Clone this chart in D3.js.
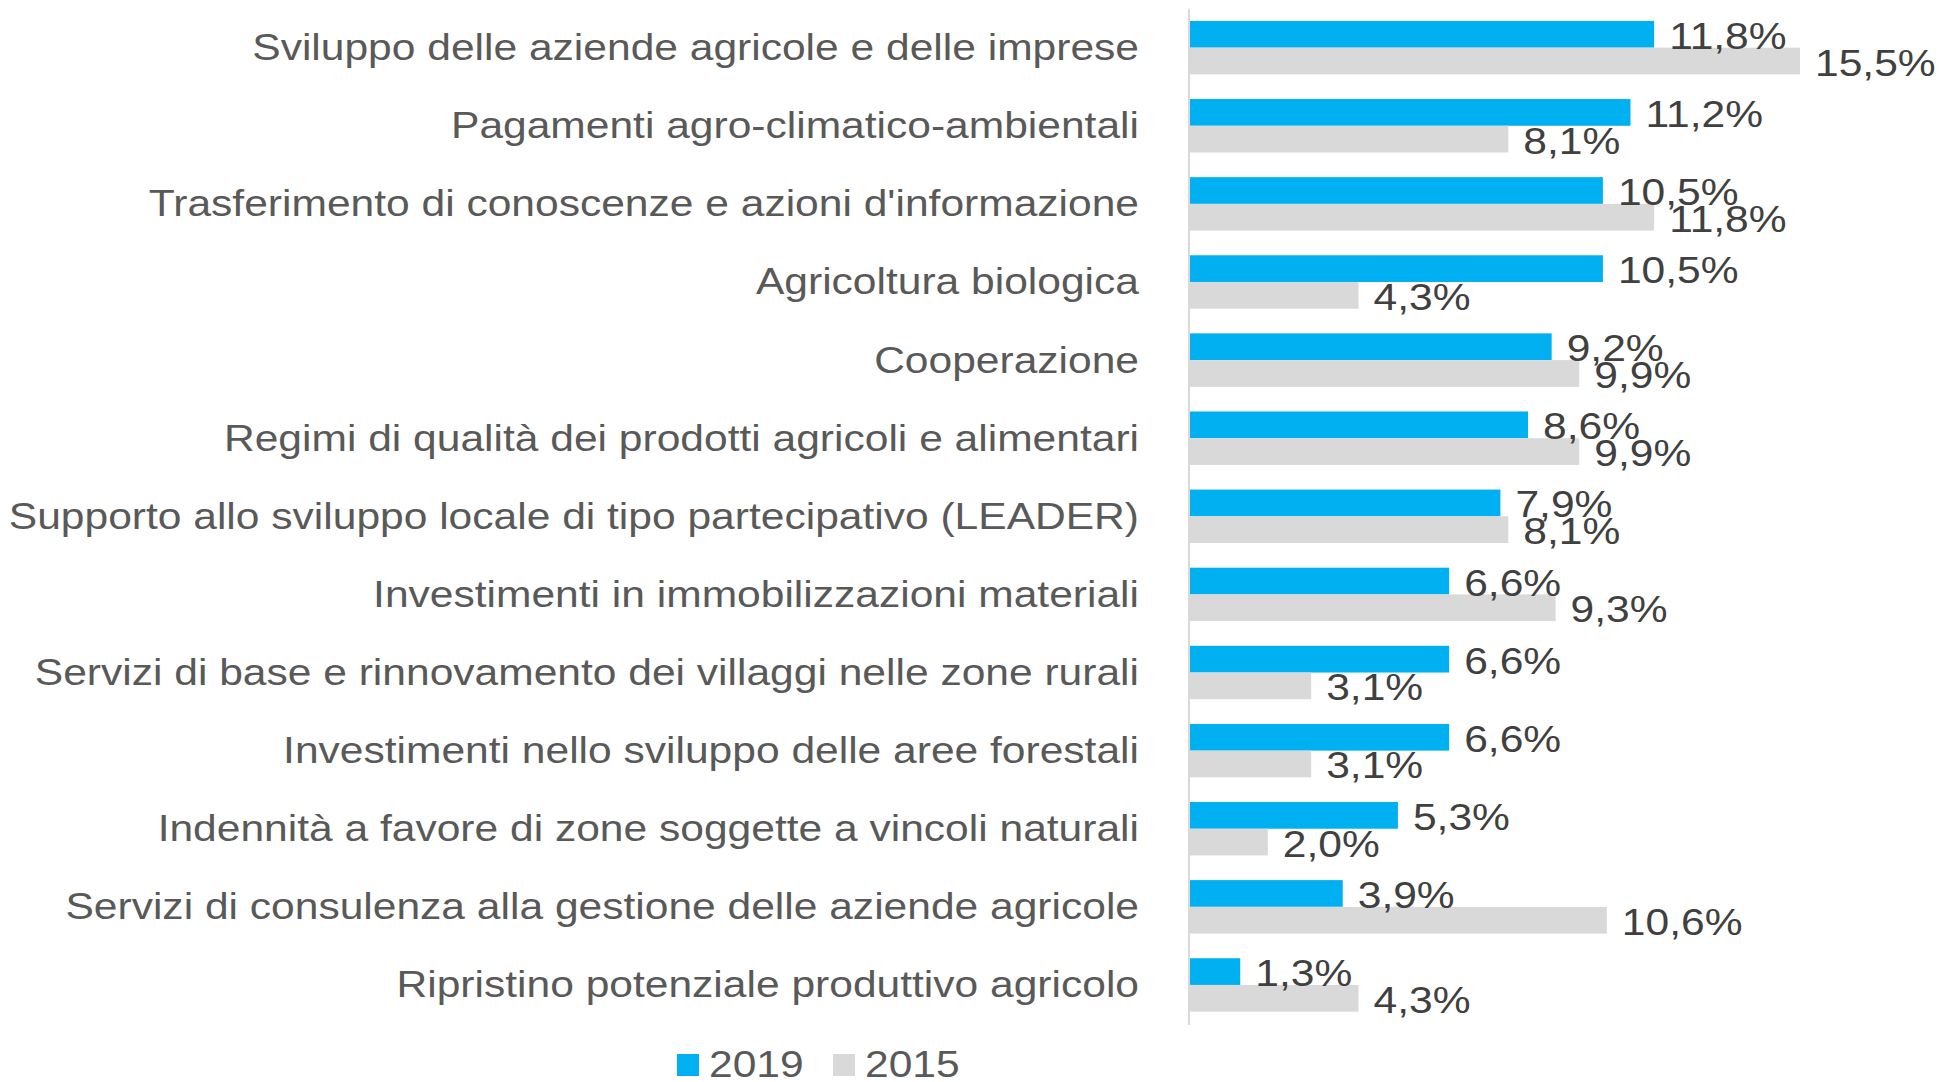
<!DOCTYPE html>
<html>
<head>
<meta charset="utf-8">
<script src="https://cdn.jsdelivr.net/npm/d3@7"></script>
<style>
  html, body { margin: 0; padding: 0; background: #ffffff; }
  svg { display: block; }
  text { font-family: "Liberation Sans", Arial, sans-serif; }
</style>
</head>
<body>
<svg id="chart" width="1944" height="1082"></svg>
<script>
const categories = [
  "Sviluppo delle aziende agricole e delle imprese",
  "Pagamenti agro-climatico-ambientali",
  "Trasferimento di conoscenze e azioni d'informazione",
  "Agricoltura biologica",
  "Cooperazione",
  "Regimi di qualità dei prodotti agricoli e alimentari",
  "Supporto allo sviluppo locale di tipo partecipativo (LEADER)",
  "Investimenti in immobilizzazioni materiali",
  "Servizi di base e rinnovamento dei villaggi nelle zone rurali",
  "Investimenti nello sviluppo delle aree forestali",
  "Indennità a favore di zone soggette a vincoli naturali",
  "Servizi di consulenza alla gestione delle aziende agricole",
  "Ripristino potenziale produttivo agricolo"
];
const seriesNames = ["2019", "2015"];
const values2019 = [11.8, 11.2, 10.5, 10.5, 9.2, 8.6, 7.9, 6.6, 6.6, 6.6, 5.3, 3.9, 1.3];
const values2015 = [15.5, 8.1, 11.8, 4.3, 9.9, 9.9, 8.1, 9.3, 3.1, 3.1, 2.0, 10.6, 4.3];
const seriesColors = ["#00B0F0", "#D9D9D9"];

const FS = 37;       // font size (px)
const SX = 1.15;     // horizontal text stretch seen in the reference
const fmt = v => d3.format(".1f")(v).replace(".", ",") + "%";

const svg = d3.select("#chart");

const x = d3.scaleLinear().domain([0, 15.5]).range([1189, 1800]);
const y = d3.scaleBand().domain(categories).range([8.6, 1024]);
const inner = d3.scaleBand().domain(seriesNames)
  .range([y.bandwidth() * 0.158, y.bandwidth() * 0.842]);

const rows = categories.map((c, i) => ({ cat: c, vals: [values2019[i], values2015[i]] }));

// bars
const g = svg.append("g");
rows.forEach(r => {
  r.vals.forEach((v, si) => {
    const yy = y(r.cat) + inner(seriesNames[si]);
    g.append("rect")
      .attr("x", x(0))
      .attr("y", yy)
      .attr("width", x(v) - x(0))
      .attr("height", inner.bandwidth())
      .attr("fill", seriesColors[si]);
  });
});

// axis line
svg.append("line")
  .attr("x1", x(0)).attr("x2", x(0))
  .attr("y1", y.range()[0] + 0.7).attr("y2", y.range()[1] + 1)
  .attr("stroke", "#D9D9D9").attr("stroke-width", 2);

// category labels
rows.forEach(r => {
  const cy = y(r.cat) + y.bandwidth() / 2;
  svg.append("text")
    .attr("transform", `translate(${x(0) - 50},${cy + 12.5}) scale(${SX},1)`)
    .attr("text-anchor", "end")
    .attr("font-size", FS)
    .attr("fill", "#595959")
    .text(r.cat);
});

// value labels
rows.forEach(r => {
  r.vals.forEach((v, si) => {
    const cy = y(r.cat) + inner(seriesNames[si]) + inner.bandwidth() / 2;
    svg.append("text")
      .attr("transform", `translate(${x(v) + 15},${cy + 14.5}) scale(${SX},1)`)
      .attr("font-size", FS)
      .attr("fill", "#404040")
      .text(fmt(v));
  });
});

// legend
const legX = [677, 833];
seriesNames.forEach((s, i) => {
  svg.append("rect")
    .attr("x", legX[i]).attr("y", 1054)
    .attr("width", 22).attr("height", 22)
    .attr("fill", seriesColors[i]);
  svg.append("text")
    .attr("transform", `translate(${legX[i] + 32},1077) scale(${SX},1)`)
    .attr("font-size", FS)
    .attr("fill", "#595959")
    .text(s);
});
</script>
</body>
</html>
